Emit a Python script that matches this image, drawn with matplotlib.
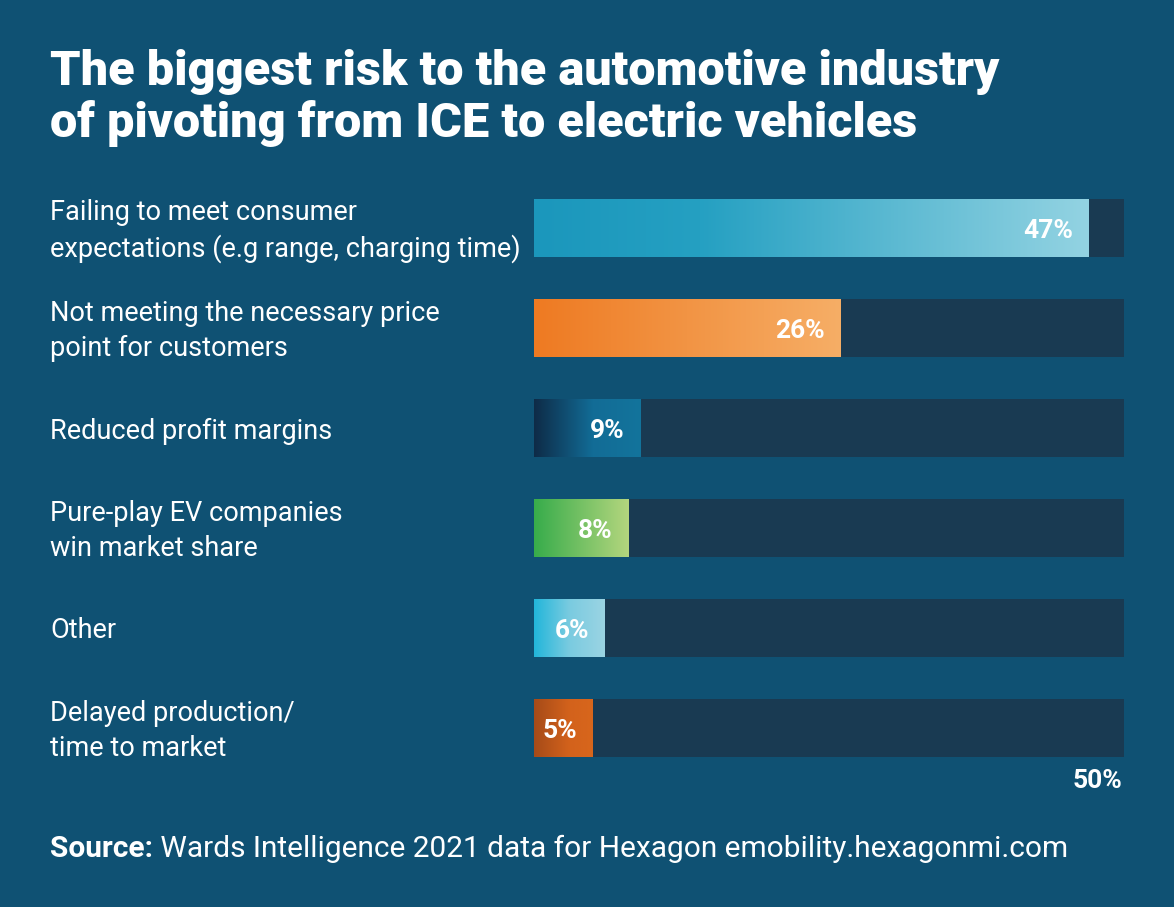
import matplotlib
matplotlib.use("Agg")
import matplotlib.pyplot as plt
import numpy as np
from matplotlib.colors import LinearSegmentedColormap

# ---- data ----
categories = [
    "Failing to meet consumer\nexpectations (e.g range, charging time)",
    "Not meeting the necessary price\npoint for customers",
    "Reduced profit margins",
    "Pure-play EV companies\nwin market share",
    "Other",
    "Delayed production/\ntime to market",
]
values = [47, 26, 9, 8, 6, 5]
axis_max = 50
axis_label = "50%"
title_lines = ["The biggest risk to the automotive industry",
               "of pivoting from ICE to electric vehicles"]
source_bold = "Source:"
source_text = " Wards Intelligence 2021 data for Hexagon emobility.hexagonmi.com"

# ---- styles ----
BG = "#0F5173"
TRACK = "#193A52"
gradients = [
    [(0.0, "#1B97BC"), (0.3, "#25A0C2"), (1.0, "#93D3E2")],
    [(0.0, "#EE7A22"), (1.0, "#F6AE66")],
    [(0.0, "#0E2B47"), (0.55, "#126C96"), (1.0, "#13749C")],
    [(0.0, "#37AC4B"), (1.0, "#B4D67E")],
    [(0.0, "#22B6DA"), (0.5, "#7ACBE0"), (1.0, "#9BD4E3")],
    [(0.0, "#A64B18"), (0.6, "#D3621C"), (1.0, "#D8661C")],
]

W, H = 1174, 907
fig = plt.figure(figsize=(W / 100, H / 100), dpi=100, facecolor=BG)

def fx(px):
    return px / W

def fy(py):
    return 1 - py / H

BOLD = "Roboto"
REG = "Roboto"

# axes for bars
ax = fig.add_axes([fx(534), fy(778), fx(1124) - fx(534), (778 - 178) / H])
ax.set_facecolor(BG)
ax.set_xlim(0, axis_max)
ax.set_ylim(len(values) - 0.5, -0.5)
ax.axis("off")

h = 0.58
ypos = np.arange(len(values))
ax.barh(ypos, [axis_max] * len(values), height=h, color=TRACK, zorder=1)
grad = np.linspace(0, 1, 256).reshape(1, -1)
for i, (v, stops) in enumerate(zip(values, gradients)):
    bars = ax.barh(i, v, height=h, color="none", zorder=2)
    cmap = LinearSegmentedColormap.from_list(f"g{i}", stops)
    im = ax.imshow(grad, extent=(0, v, i + h / 2, i - h / 2), aspect="auto",
                   cmap=cmap, zorder=2, interpolation="bicubic")
    im.set_clip_path(bars.patches[0])
    ax.text(v - 1.35, i + 0.03, f"{v}%", ha="right", va="center",
            color="white", fontsize=19, fontweight="bold", family=BOLD, zorder=3)

ax.set_xlim(0, axis_max)
ax.set_ylim(len(values) - 0.5, -0.5)

# 50% label
fig.text(fx(1122), fy(781), axis_label, ha="right", va="center",
         color="white", fontsize=19, fontweight="bold", family=BOLD)

# category labels
for i, c in enumerate(categories):
    fig.text(fx(50), fy(231 + 100 * i), c, ha="left", va="center",
             color="white", fontsize=19.5, family=REG, linespacing=1.38)

# title
fig.text(fx(50), fy(85), title_lines[0], ha="left", va="baseline",
         color="white", fontsize=35, fontweight="heavy", family=BOLD)
fig.text(fx(50), fy(137), title_lines[1], ha="left", va="baseline",
         color="white", fontsize=35, fontweight="heavy", family=BOLD)

# source
t = fig.text(fx(50), fy(857), source_bold, ha="left", va="baseline",
             color="white", fontsize=21.5, fontweight="bold", family=BOLD)
fig.canvas.draw()
bb = t.get_window_extent()
fig.text(bb.x1 / W, fy(857), source_text, ha="left", va="baseline",
         color="white", fontsize=21.5, family=REG)

fig.savefig("out.png", dpi=100, facecolor=BG)
